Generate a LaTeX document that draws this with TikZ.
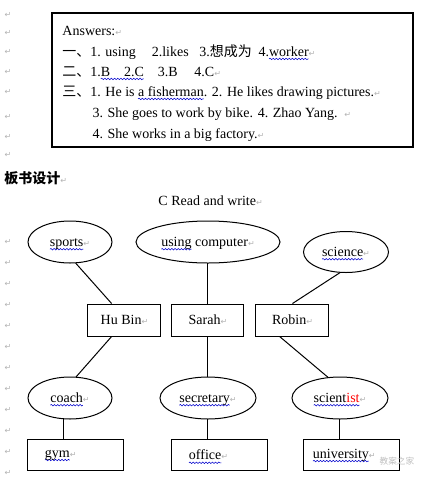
\documentclass[tikz,border=0pt]{standalone}
\usepackage{fontspec}
\setmainfont{Liberation Serif}
\newfontfamily\cjk{Noto Sans CJK SC}
\newfontfamily\retfont{DejaVu Sans}
\usetikzlibrary{shapes.geometric,decorations.pathmorphing}
\newsavebox\spellbox
\newlength\spellwd
\newcommand\retmark{{\retfont\fontsize{6pt}{6pt}\selectfont\textcolor{gray!60}{↵}}}
\newcommand\spell[1]{\sbox\spellbox{#1}\setlength\spellwd{\wd\spellbox}%
  \tikz[overlay,baseline=0pt]\draw[blue!80!black,line width=0.4pt,decorate,
    decoration={snake,amplitude=0.55pt,segment length=2.4pt}] (0pt,-2.2pt) -- (\spellwd,-2.2pt);%
  \usebox\spellbox}
\begin{document}
\begin{tikzpicture}[x=0.75pt,y=-0.75pt,line width=0.75pt,
  font=\fontsize{10.5pt}{12.6pt}\selectfont,
  bubble/.style={draw,ellipse,inner sep=0pt,minimum height=31.5pt,text height=7.7pt,text depth=1.3pt},
  namebox/.style={draw,inner sep=0pt,minimum width=54.75pt,minimum height=24pt},
  placebox/.style={draw,minimum height=23.25pt,inner xsep=12.75pt,inner ysep=0pt,text width=46.5pt,align=left},
  retsign/.style={inner sep=0pt},
  line/.style={anchor=base west,inner sep=0pt}]
  \useasboundingbox (0,0) rectangle (432,480);
  \foreach \y in {15,33,52,72,92,117,137,155} \node[retsign] (l\y) at (8,\y) {\retmark};
  \foreach \y in {242,263,...,473} \node[retsign] (l\y) at (8,\y) {\retmark};
  \draw[line width=1.1pt] (52,13) rectangle (413,147);
  \node[line] (ans1) at (62,35) {Answers:\retmark};
  \node[line] (ans2) at (62,56) {{\cjk 一、}1. using\hspace{12pt}2.likes\hspace{8pt}3.{\cjk 想成为}\hspace{5pt}4.\spell{worker}\retmark};
  \node[line] (ans3) at (62,76) {{\cjk 二、}1.\spell{B\hspace{10.5pt}2.C}\hspace{10.5pt}3.B\hspace{12.5pt}4.C\retmark};
  \node[line] (ans4) at (62,96) {{\cjk 三、}1. He is \spell{a fisherman}. 2. He likes drawing pictures.\retmark};
  \node[line] (ans5) at (92,117) {3. She goes to work by bike. 4. Zhao Yang.\hspace{5pt}\retmark};
  \node[line] (ans6) at (92,138) {4. She works in a big factory.\retmark};
  \node[line] (heading) at (4,183) {{\cjk\bfseries 板书设计}\retmark};
  \node[line] (title) at (158,205) {C Read and write\retmark};
  \node[bubble,minimum width=63pt] (sports) at (70,242) {\spell{sports}\retmark};
  \node[bubble,minimum width=108pt] (computer) at (208,242) {\spell{using} computer\retmark};
  \node[bubble,minimum width=63.75pt,minimum height=30.75pt] (science) at (346,252) {\spell{science}\retmark};
  \node[namebox] (hubin) at (124.5,320) {Hu Bin\retmark};
  \node[namebox,minimum width=54pt] (sarah) at (208,320) {Sarah\retmark};
  \node[namebox] (robin) at (292.5,320) {Robin\retmark};
  \node[bubble,minimum width=63pt] (coach) at (70,398) {\spell{coach}\retmark};
  \node[bubble,minimum width=72pt] (secretary) at (208,398) {\spell{secretary}\retmark};
  \node[bubble,minimum width=72pt] (scientist) at (340,398) {\spell{scient\textcolor{red}{ist}}\retmark};
  \node[placebox] (gym) at (76,455) {\spell{gym}\retmark};
  \node[placebox] (office) at (220,455) {\spell{office}\retmark};
  \node[placebox,inner xsep=6.75pt,text width=58.5pt] (university) at (352,455) {\spell{university}\retmark};
  \node[text=gray!50,inner sep=0pt,font={\cjk\fontsize{6.5pt}{7pt}\selectfont}] (watermark) at (397,461) {教案之家};
  \draw (sports.-75) -- (hubin.128);
  \draw (computer.south) -- (sarah.north);
  \draw (science.-106) -- (robin.north);
  \draw (hubin.-128) -- (coach.74);
  \draw (sarah.south) -- (secretary.north);
  \draw (robin.-128) -- (scientist.120);
  \draw (coach.-106) -- (coach.-106 |- gym.north);
  \draw (secretary.south) -- (secretary.south |- office.north);
  \draw (scientist.south) -- (scientist.south |- university.north);
\end{tikzpicture}
\end{document}
